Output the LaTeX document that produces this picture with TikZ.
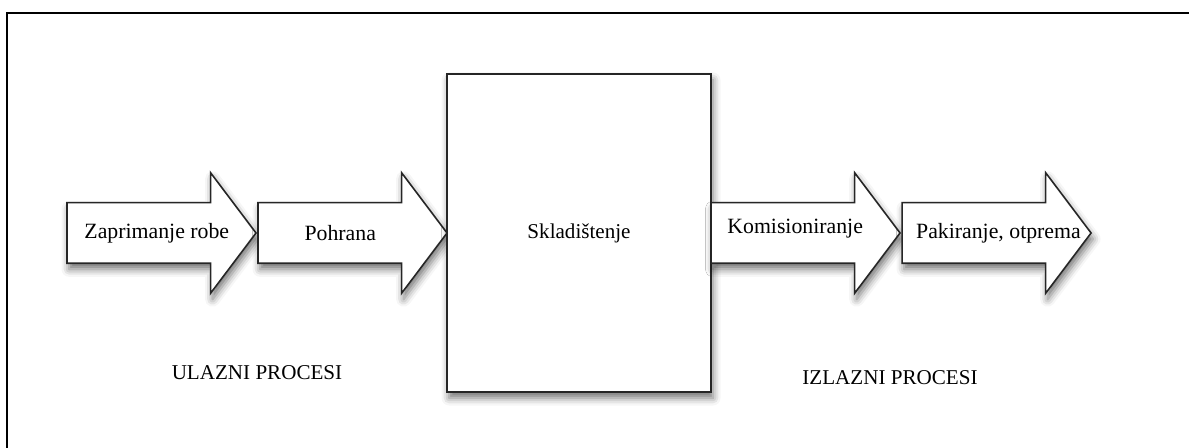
\documentclass[tikz,border=0pt]{standalone}
\usepackage{fontspec}
\setmainfont{Liberation Serif}
\usetikzlibrary{shapes.arrows,shadows.blur,positioning,calc}

\begin{document}
\begin{tikzpicture}[
    node distance=0cm,
    procarrow/.style={single arrow, draw=black!85, line width=0.9pt, fill=white, outer sep=0pt, inner xsep=0pt, inner ysep=0.59cm, minimum width=2.38cm, minimum height=3.78cm, single arrow head extend=0.6cm, single arrow tip angle=106, blur shadow={shadow xshift=0.4mm, shadow yshift=-1.2mm, shadow blur radius=1.5mm, shadow opacity=55}},
    storebox/.style={rectangle, draw=black!85, line width=0.9pt, fill=white, outer sep=0pt, minimum width=5.28cm, minimum height=6.36cm, font=\fontsize{12}{14}\selectfont, blur shadow={shadow xshift=0.4mm, shadow yshift=-1.2mm, shadow blur radius=1.5mm, shadow opacity=55}},
    arrowtext/.style={inner sep=0pt, font=\fontsize{12.4}{14}\selectfont},
    grouplabel/.style={font=\fontsize{12}{14}\selectfont}
]
\useasboundingbox (0,0) rectangle (23.78,-8.96);

% Frame
\draw[line width=1pt] (0.14,-8.96) -- (0.14,-0.26) -- (23.78,-0.26);

% Incoming processes
\node[procarrow, anchor=tail] (zapr) at (1.34,-4.66) {};
\node[procarrow, right=0.04cm of zapr] (pohr) {};

% Central storage box
\node[storebox, right=0cm of pohr] (store) {Skladištenje};

% Outgoing processes
\node[procarrow, right=0cm of store] (komis) {};
\node[procarrow, right=0.04cm of komis] (pakir) {};

% Arrow texts
\node[arrowtext] (zapr-t) at ($(zapr.tail)!0.475!(zapr.tip)$) {Zaprimanje robe};
\node[arrowtext] (pohr-t) at ($(pohr.tail)!0.435!(pohr.tip)$) {Pohrana};
\node[arrowtext, yshift=0.08cm] (komis-t) at ($(komis.tail)!0.445!(komis.tip)$) {Komisioniranje};
\node[arrowtext] (pakir-t) at ($(pakir.tail)!0.51!(pakir.tip)$) {Pakiranje, otprema};

% Group labels
\node[grouplabel] (ulazni) at (5.14,-7.46) {ULAZNI PROCESI};
\node[grouplabel] (izlazni) at (17.8,-7.56) {IZLAZNI PROCESI};

\end{tikzpicture}
\end{document}
